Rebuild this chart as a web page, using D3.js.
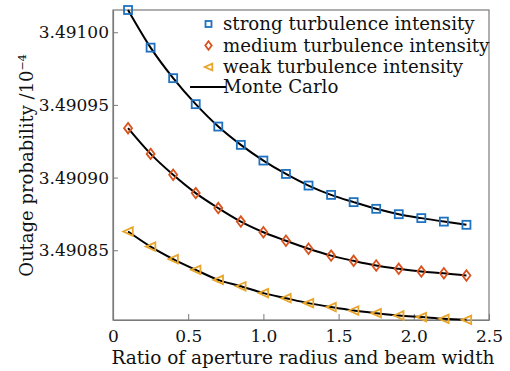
<!DOCTYPE html>
<html><head><meta charset="utf-8">
<script src="https://cdn.jsdelivr.net/npm/d3@7"></script>
<style>body{margin:0;background:#fff}svg{display:block}text{font-family:"DejaVu Serif",serif;fill:#111}</style>
</head><body><svg id="c" width="510" height="371"></svg>
<script>
const xValues = [0.1,0.25,0.4,0.55,0.7,0.85,1.0,1.15,1.3,1.45,1.6,1.75,1.9,2.05,2.2,2.35];
const strong = [3.4910153,3.4909894,3.4909684,3.4909505,3.4909351,3.4909225,3.4909117,3.4909025,3.4908945,3.4908881,3.4908831,3.4908785,3.4908748,3.4908721,3.4908697,3.4908675];
const medium = [3.4909340,3.4909163,3.4909019,3.4908893,3.4908790,3.4908697,3.4908624,3.4908565,3.4908510,3.4908463,3.4908427,3.4908395,3.4908372,3.4908353,3.4908342,3.4908326];
const weak = [3.4908629,3.4908525,3.4908439,3.4908365,3.4908296,3.4908252,3.4908205,3.4908170,3.4908136,3.4908109,3.4908085,3.4908067,3.4908051,3.4908040,3.4908028,3.4908021];
const xTicks = [0,0.5,1.0,1.5,2.0,2.5];
const xTickLabels = ["0","0.5","1.0","1.5","2.0","2.5"];
const yTicks = [3.49085,3.49090,3.49095,3.49100];
const yTickLabels = ["3.49085","3.49090","3.49095","3.49100"];
const seriesNames = ["strong turbulence intensity","medium turbulence intensity","weak turbulence intensity"];
const lineName = "Monte Carlo";
const colors = ["#1f72c0","#d9531e","#e8a52a"];

const svg = d3.select("#c");
const L=113,R=489,T=10,B=320;
const x = d3.scaleLinear().domain([0,2.5]).range([L,R]);
const y = d3.scaleLinear().domain([3.490802,3.4910153]).range([B,T]);

// frame
svg.append("rect").attr("x",L).attr("y",T).attr("width",R-L).attr("height",B-T)
  .attr("fill","none").attr("stroke","#7a7a7a").attr("stroke-width",1.2);

// axes
const xa = svg.append("g").attr("transform",`translate(0,${B})`)
  .call(d3.axisBottom(x).tickValues(xTicks).tickFormat((d,i)=>xTickLabels[i]).tickSizeInner(-6).tickSizeOuter(0).tickPadding(10));
const ya = svg.append("g").attr("transform",`translate(${L},0)`)
  .call(d3.axisLeft(y).tickValues(yTicks).tickFormat((d,i)=>yTickLabels[i]).tickSizeInner(-5).tickSizeOuter(0).tickPadding(4));
[xa,ya].forEach(g=>{
  g.select(".domain").attr("stroke","#7a7a7a").attr("stroke-width",1.2);
  g.selectAll(".tick line").attr("stroke","#7a7a7a");
  g.selectAll(".tick text").style("font-family","DejaVu Serif").style("font-size","17px").attr("fill","#111");
});

// Monte Carlo curves
const line = d3.line().x((d,i)=>x(xValues[i])).y(d=>y(d)).curve(d3.curveMonotoneX);
const all = [strong,medium,weak];
all.forEach(s=>{
  svg.append("path").attr("d",line(s)).attr("fill","none").attr("stroke","#000").attr("stroke-width",2);
});

// markers
function marker(g,type,cx,cy,sz,color){
  if(type===0){
    g.append("rect").attr("x",cx-sz/2).attr("y",cy-sz/2).attr("width",sz).attr("height",sz)
      .attr("fill","none").attr("stroke",color).attr("stroke-width",1.8);
  } else if(type===1){
    const w=sz*0.8,h=sz*1.05;
    g.append("path").attr("d",`M${cx},${cy-h/2}L${cx+w/2},${cy}L${cx},${cy+h/2}L${cx-w/2},${cy}Z`)
      .attr("fill","none").attr("stroke",color).attr("stroke-width",1.8);
  } else {
    const w=sz*0.95,h=sz*0.85;
    g.append("path").attr("d",`M${cx-w/2},${cy}L${cx+w/2},${cy-h/2}L${cx+w/2},${cy+h/2}Z`)
      .attr("fill","none").attr("stroke",color).attr("stroke-width",1.8);
  }
}
const mg = svg.append("g");
all.forEach((s,k)=>{
  s.forEach((v,i)=>marker(mg,k,x(xValues[i]),y(v),k===0?8:10,colors[k]));
});

// legend
const lg = svg.append("g");
const lx=208.5, ly=[24,45.5,67,87];
seriesNames.forEach((n,k)=>{
  marker(lg,k,lx,ly[k],k===0?6:8,colors[k]);
  lg.append("text").attr("x",223).attr("y",ly[k]+6).style("font-size","18.2px").text(n);
});
lg.append("line").attr("x1",190).attr("x2",226).attr("y1",ly[3]).attr("y2",ly[3]).attr("stroke","#000").attr("stroke-width",2);
lg.append("text").attr("x",223).attr("y",ly[3]+6).style("font-size","18.2px").text(lineName);

// axis titles
svg.append("text").attr("x",(L+R)/2+2).attr("y",364).attr("text-anchor","middle").style("font-size","18.5px")
  .text("Ratio of aperture radius and beam width");
const yt = svg.append("text").attr("transform",`translate(33,165.5) rotate(-90)`).attr("text-anchor","middle").style("font-size","18px");
yt.append("tspan").text("Outage probability /10");
yt.append("tspan").attr("dy",-7).style("font-size","11px").text("\u22124");
</script></body></html>
